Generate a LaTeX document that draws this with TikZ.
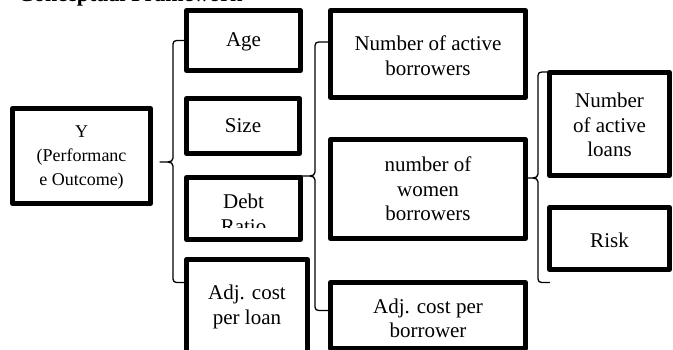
\documentclass[tikz,border=0pt]{standalone}
\usepackage{fontspec}
\setmainfont{Liberation Serif}
\newcommand{\mltext}[1]{\begin{tabular}[t]{@{}c@{}}#1\end{tabular}}
\begin{document}
\begin{tikzpicture}[x=1pt,y=-1pt,
  boxstyle/.style={draw, line width=5pt, inner sep=0pt, outer sep=0pt, rectangle, line join=round},
  txt/.style={inner sep=0pt, anchor=base, font=\fontsize{21}{24.5}\selectfont},
  ytxt/.style={inner sep=0pt, anchor=base, font=\fontsize{18}{24}\selectfont},
  titletxt/.style={inner sep=0pt, anchor=base west, font=\fontsize{22}{26}\selectfont\bfseries},
  bracestyle/.style={line width=1.3pt, line join=round, line cap=round}]
\useasboundingbox (0,0) rectangle (673,350);
\clip (0,0) rectangle (673,350);

% title (cut off at the top)
\node[titletxt] (title) at (18,2) {Conceptual Framework};

% boxes
\node[boxstyle, minimum width=138pt, minimum height=95pt] (ybox) at (81.5,156) {};
\node[boxstyle, minimum width=114pt, minimum height=60pt] (age) at (243.5,40.5) {};
\node[boxstyle, minimum width=113pt, minimum height=55pt] (size) at (243,126) {};
\node[boxstyle, minimum width=114pt, minimum height=62pt] (debt) at (243.5,208.5) {};
\node[boxstyle, minimum width=121pt, minimum height=118pt] (adjl) at (247,318.5) {};
\node[boxstyle, minimum width=195pt, minimum height=87pt] (nab) at (428,54) {};
\node[boxstyle, minimum width=195pt, minimum height=99pt] (women) at (428,189) {};
\node[boxstyle, minimum width=195pt, minimum height=66pt] (adjb) at (428,315.5) {};
\node[boxstyle, minimum width=120pt, minimum height=103pt] (nal) at (609.5,124) {};
\node[boxstyle, minimum width=120pt, minimum height=62pt] (risk) at (609.5,238.5) {};

% texts
\node[ytxt] (yt) at (81.5,137.7) {\mltext{Y\\(Performanc\\e Outcome)}};
\node[txt] (aget) at (243.5,47) {Age};
\node[txt] (sizet) at (243,133) {Size};
\begin{scope}
  \clip (186,178) rectangle (301,228);
  \node[txt] (debtt) at (243.5,209) {\mltext{Debt\\Ratio}};
\end{scope}
\node[txt] (adjlt) at (247,300) {\mltext{Adj. cost\\per loan}};
\node[txt] (nabt) at (428,50.7) {\mltext{Number of active\\borrowers}};
\node[txt] (woment) at (428,172) {\mltext{number of\\women\\borrowers}};
\node[txt] (adjbt) at (428,313) {\mltext{Adj. cost per\\borrower}};
\node[txt] (nalt) at (609.5,108) {\mltext{Number\\of active\\loans}};
\node[txt] (riskt) at (609.5,248) {Risk};

% brace 1
\coordinate (b1tip) at (160,162);
\draw[bracestyle] (age.west) -- (177,40.5) .. controls (174.5,40.5) and (173,41.5) .. (173,44)
  -- (173,158) .. controls (173,160.5) and (171,162) .. (168,162) -- (b1tip);
\draw[bracestyle] (168,162) .. controls (171,162) and (173,163.5) .. (173,166)
  -- (173,279) .. controls (173,281.5) and (174.5,282.5) .. (177,282.5) -- (adjl.west |- 0,282.5);

% brace 2
\draw[bracestyle] (nab.west |- 0,42) -- (319,42) .. controls (316.5,42) and (315,43) .. (315,45.5)
  -- (315,172) .. controls (315,174.5) and (313,176) .. (310,176) -- (debt.east |- 0,176);
\draw[bracestyle] (310,176) .. controls (313,176) and (315,177.5) .. (315,180)
  -- (315,307) .. controls (315,309.5) and (316.5,310.5) .. (319,310.5) -- (adjb.west |- 0,310.5);

% brace 3
\draw[bracestyle] (nal.west |- 0,72) -- (542,72) .. controls (539.5,72) and (538,73) .. (538,75.5)
  -- (538,174) .. controls (538,176.5) and (536,178) .. (533,178) -- (women.east |- 0,178);
\draw[bracestyle] (533,178) .. controls (536,178) and (538,179.5) .. (538,182)
  -- (538,279) .. controls (538,281.5) and (539.5,282.5) .. (542,282.5) -- (risk.west |- 0,282.5);
\end{tikzpicture}
\end{document}
